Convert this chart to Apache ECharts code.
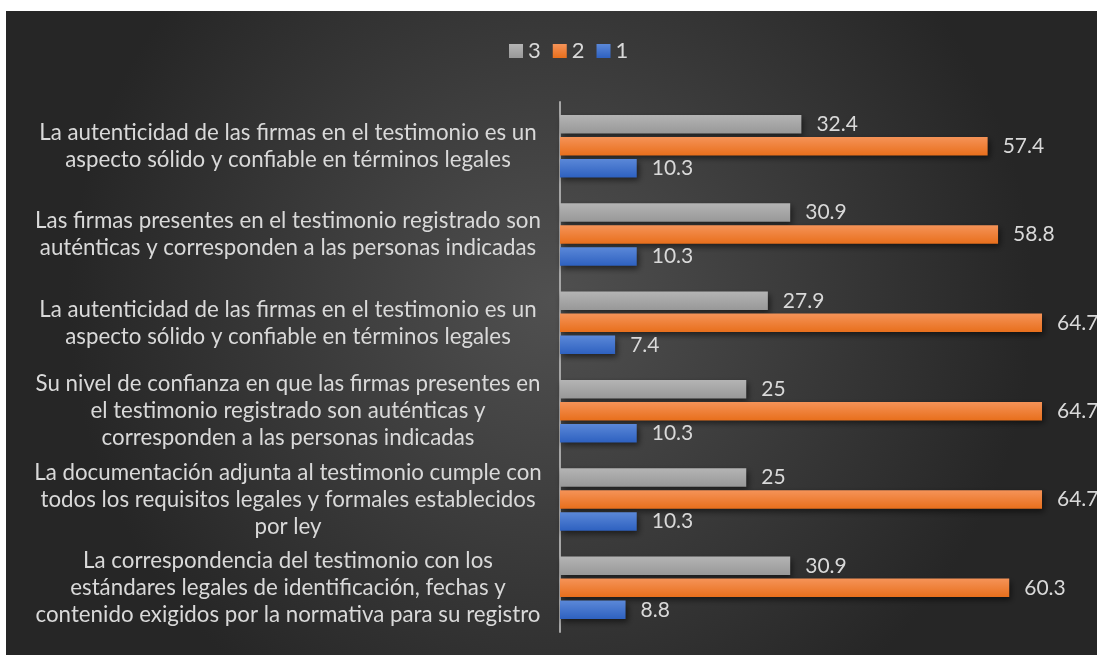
<!DOCTYPE html>
<html>
<head>
<meta charset="utf-8">
<script src="https://cdn.jsdelivr.net/npm/echarts@6/dist/echarts.min.js"></script>
<style>
  html, body { margin: 0; padding: 0; background: #fff; }
  #chart { position: absolute; left: 6px; top: 11px; width: 1091px; height: 644px; }
</style>
</head>
<body>
<div id="chart"></div>
<script>
var categories = [
    'La autenticidad de las firmas en el testimonio es un\naspecto sólido y confiable en términos legales',
    'Las firmas presentes en el testimonio registrado son\nauténticas y corresponden a las personas indicadas',
    'La autenticidad de las firmas en el testimonio es un\naspecto sólido y confiable en términos legales',
    'Su nivel de confianza en que las firmas presentes en\nel testimonio registrado son auténticas y\ncorresponden a las personas indicadas',
    'La documentación adjunta al testimonio cumple con\ntodos los requisitos legales y formales establecidos\npor ley',
    'La correspondencia del testimonio con los\nestándares legales de identificación, fechas y\ncontenido exigidos por la normativa para su registro'
];
var serie3 = [32.4, 30.9, 27.9, 25, 25, 30.9];
var serie2 = [57.4, 58.8, 64.7, 64.7, 64.7, 60.3];
var serie1 = [10.3, 10.3, 7.4, 10.3, 10.3, 8.8];

var fuente = 'Lato';
var myChart = echarts.init(document.getElementById('chart'));

function degradado(a, b) {
    return new echarts.graphic.LinearGradient(0, 0, 0, 1, [
        { offset: 0, color: a },
        { offset: 1, color: b }
    ]);
}

function serie(nombre, datos, c1, c2) {
    return {
        name: nombre,
        type: 'bar',
        data: datos,
        barWidth: 18.5,
        barGap: '19%',
        itemStyle: {
            color: degradado(c1, c2),
            shadowColor: 'rgba(0,0,0,0.55)',
            shadowBlur: 6,
            shadowOffsetX: 2,
            shadowOffsetY: 3
        },
        label: {
            show: true,
            position: 'right',
            distance: 15,
            color: '#d9d9d9',
            fontFamily: fuente,
            fontSize: 21
        }
    };
}

var option = {
    backgroundColor: new echarts.graphic.RadialGradient(0.5, 0.45, 0.75, [
        { offset: 0, color: '#505050' },
        { offset: 1, color: '#262626' }
    ]),
    textStyle: { fontFamily: fuente },
    legend: {
        top: 24,
        left: 498,
        itemWidth: 14,
        itemHeight: 14,
        itemGap: 12,
        icon: 'rect',
        textStyle: { color: '#d9d9d9', fontSize: 22, fontFamily: fuente },
        data: ['3', '2', '1']
    },
    grid: {
        left: 554,
        top: 91,
        height: 530,
        width: 521.5
    },
    xAxis: {
        type: 'value',
        min: 0,
        max: 70,
        show: false
    },
    yAxis: {
        type: 'category',
        inverse: true,
        data: categories,
        axisTick: { show: false },
        axisLine: { lineStyle: { color: '#a6a6a6', width: 2 } },
        axisLabel: {
            color: '#d9d9d9',
            fontFamily: fuente,
            fontSize: 22.3,
            lineHeight: 27,
            align: 'center',
            margin: 272
        }
    },
    series: [
        serie('3', serie3, '#b4b4b4', '#989898'),
        serie('2', serie2, '#f59358', '#e86f1c'),
        serie('1', serie1, '#5b88d8', '#2e61c0')
    ]
};

option && myChart.setOption(option);
</script>
</body>
</html>
